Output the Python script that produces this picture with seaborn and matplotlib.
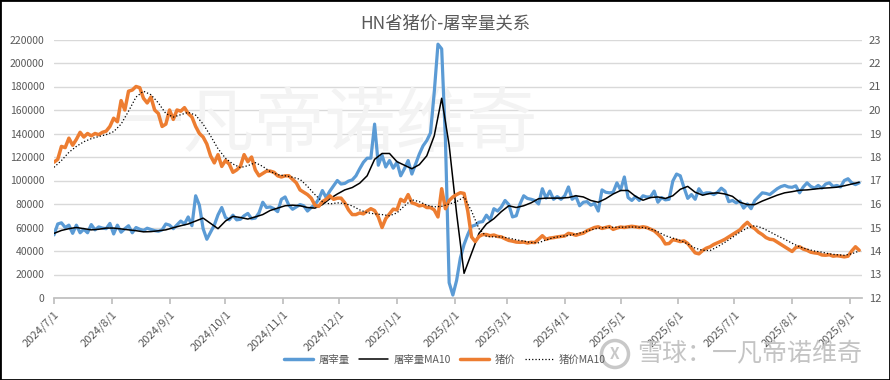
import pandas as pd
import matplotlib.pyplot as plt
from matplotlib.lines import Line2D
from matplotlib.patches import Rectangle, Ellipse
import seaborn as sns

# Basic style, then CJK font list (set after set_theme)
sns.set_theme(style="white")
plt.rcParams['font.family'] = ['Noto Sans CJK SC', 'DejaVu Sans']
plt.rcParams['axes.unicode_minus'] = False

START = '2024-07-01'

# daily slaughter volume (head), every 2 days
slaughter = [
    53700, 63000, 64000, 60000, 62000, 55000, 62000, 55500, 58500, 55500,
    62500, 58000, 60500, 59500, 59000, 63500, 54500, 62000, 56000, 59000,
    61500, 55500, 60000, 58500, 57500, 59400, 58300, 57300, 56800, 58000,
    63000, 62000, 59000, 62300, 65500, 63000, 69000, 61500, 87000, 79000,
    59000, 50000, 56000, 62000, 70800, 77000, 68500, 66500, 70500, 66500,
    67000, 70000, 72000, 67500, 68000, 72500, 81500, 77000, 77500, 76000,
    73500, 84000, 86000, 79000, 75500, 77500, 79500, 78500, 74000, 77000,
    79500, 84000, 91500, 85500, 91000, 95500, 100000, 97000, 97500, 99500,
    100500, 104000, 110000, 115500, 119000, 119000, 148000, 113000, 121500, 111500,
    117000, 110500, 115500, 104000, 110000, 117000, 105500, 114000, 122500, 129500,
    134000, 140500, 175000, 216000, 212000, 135000, 13000, 2500, 15000, 34000,
    45500, 54000, 61000, 62000, 64500, 65000, 70500, 66500, 76000, 74000,
    77500, 83000, 79500, 69000, 70000, 80000, 87000, 84700, 84000, 83000,
    80000, 93000, 85000, 91000, 84000, 86300, 84000, 87000, 94500, 84000,
    86500, 78500, 81500, 82000, 79000, 80500, 74000, 92000, 90000, 89500,
    90000, 98000, 92000, 103000, 85500, 83000, 86300, 83000, 87000, 86000,
    86000, 91000, 81500, 85500, 83500, 84000, 99500, 105500, 104000, 94000,
    84800, 88000, 84000, 93000, 88500, 89500, 89500, 88000, 90000, 93500,
    91000, 82000, 83000, 81000, 82500, 76500, 80000, 76000, 83000, 86300,
    89500, 89000, 88000, 90500, 93000, 94800, 95800, 94500, 94200, 95500,
    89500, 94500, 98000, 95000, 93500, 95800, 93500, 97000, 98000, 95000,
    95800, 94500, 100000, 101500, 98000, 96500, 98000,
]

# pig price (yuan/kg), same dates
price = [
    17.78, 17.9, 18.45, 18.4, 18.8, 18.5, 18.75, 19.05, 18.85, 19.0,
    18.9, 19.0, 18.95, 19.05, 19.1, 19.3, 19.65, 19.5, 20.4, 20.0,
    20.8, 20.85, 21.0, 20.95, 20.5, 20.3, 20.55, 20.0, 19.85, 19.3,
    19.4, 20.0, 19.6, 20.0, 19.95, 20.1, 19.85, 19.7, 19.3, 19.0,
    18.85, 18.55, 18.05, 17.75, 18.1, 17.6, 17.85, 17.7, 17.35, 17.45,
    17.6, 18.1, 17.8, 18.0, 17.45, 17.2, 17.3, 17.4, 17.4, 17.35,
    17.2, 17.15, 17.2, 17.2, 17.05, 16.9, 16.6, 16.5, 16.4, 16.25,
    15.95, 15.9, 16.1, 16.2, 16.35, 16.2, 16.25, 16.25, 16.05, 15.75,
    15.55, 15.55, 15.62, 15.58, 15.7, 15.8, 15.72, 15.45, 15.0, 15.38,
    15.58, 15.78, 15.75, 16.2, 16.1, 16.4, 16.05, 16.0, 15.92, 15.95,
    15.85, 15.85, 15.75, 15.45, 16.65, 15.8, 16.15, 16.3, 16.4, 16.48,
    16.45, 15.7, 14.6, 14.4, 14.62, 14.7, 14.7, 14.65, 14.68, 14.62,
    14.6, 14.52, 14.45, 14.42, 14.38, 14.37, 14.38, 14.34, 14.37, 14.36,
    14.5, 14.65, 14.5, 14.55, 14.57, 14.6, 14.62, 14.64, 14.75, 14.72,
    14.67, 14.72, 14.76, 14.86, 14.93, 15.0, 15.03, 14.96, 15.0, 15.04,
    14.92, 14.98, 15.02, 15.0, 15.03, 15.05, 15.03, 15.0, 15.03, 15.0,
    14.93, 14.86, 14.72, 14.56, 14.3, 14.32, 14.48, 14.45, 14.4, 14.43,
    14.32, 14.12, 13.92, 13.88, 14.02, 14.12, 14.18, 14.28, 14.35, 14.42,
    14.5, 14.6, 14.7, 14.8, 14.9, 15.08, 15.22, 15.05, 14.95, 14.8,
    14.7, 14.57, 14.5, 14.48, 14.38, 14.28, 14.18, 14.08, 13.98, 14.15,
    14.18, 14.08, 14.03, 13.95, 13.92, 13.9, 13.83, 13.82, 13.84, 13.78,
    13.8, 13.78, 13.75, 13.78, 14.0, 14.18, 14.03,
]

# 10-day moving averages, read every 4 days
slaughter_ma10 = [
    55000, 57500, 59000, 60000, 59000, 58000, 58500, 59500, 59500, 58800,
    58000, 57300, 56300, 56500, 57200, 58000, 59800, 61500, 63000, 65500,
    68000, 63500, 59000, 65500, 69500, 68500, 67200, 69000, 71000, 74500,
    76500, 78500, 79000, 78500, 77000, 76500, 79500, 84500, 88500, 92000,
    94000, 97700, 104000, 118000, 123000, 123000, 116000, 113000, 110000, 113500,
    121000, 138000, 170000, 130000, 72000, 21000, 38000, 55000, 63000, 67500,
    73500, 78500, 77000, 78500, 81000, 84500, 85000, 85000, 85000, 85500,
    87000, 86000, 83000, 81500, 84500, 88500, 91500, 91500, 86500, 83200,
    85500, 86000, 84700, 87000, 92500, 95000, 90000, 87500, 89000, 89500,
    88500, 86500, 81500, 79500, 79500, 82500, 85000, 87500, 89500, 90500,
    91700, 92000, 92700, 93400, 93800, 94300, 95500, 97000, 98500,
]

price_ma10 = [
    17.56, 17.85, 18.2, 18.45, 18.65, 18.78, 18.87, 18.95, 19.08, 19.4,
    19.95, 20.55, 20.8, 20.65, 20.3, 19.85, 19.7, 19.8, 19.9, 19.78,
    19.4, 18.9, 18.35, 17.95, 17.7, 17.55, 17.63, 17.76, 17.6, 17.38,
    17.25, 17.2, 17.14, 17.05, 16.75, 16.4, 16.1, 16.0, 16.05, 16.02,
    15.92, 15.75, 15.63, 15.58, 15.55, 15.5, 15.62, 15.92, 16.18, 16.1,
    15.95, 15.88, 15.9, 16.0, 16.1, 16.3, 15.7, 14.95, 14.62, 14.6,
    14.6, 14.55, 14.48, 14.42, 14.36, 14.35, 14.47, 14.57, 14.62, 14.66,
    14.72, 14.8, 14.9, 14.97, 15.0, 15.01, 15.01, 15.02, 15.02, 15.0,
    14.94, 14.82, 14.65, 14.55, 14.45, 14.3, 14.12, 14.03, 14.02, 14.18,
    14.37, 14.58, 14.8, 14.98, 15.08, 14.98, 14.82, 14.65, 14.5, 14.33,
    14.18, 14.08, 14.0, 13.95, 13.88, 13.84, 13.82, 13.88, 14.0,
]

month_ticks = ['2024-07-01', '2024-08-01', '2024-09-01', '2024-10-01', '2024-11-01',
               '2024-12-01', '2025-01-01', '2025-02-01', '2025-03-01', '2025-04-01',
               '2025-05-01', '2025-06-01', '2025-07-01', '2025-08-01', '2025-09-01']
left_ticks = list(range(0, 220001, 20000))
right_ticks = list(range(12, 24))

BLUE = '#5b9bd5'
ORANGE = '#ed7d31'
GREY_TXT = '#595959'

raw = pd.DataFrame({
    'date': pd.date_range(START, periods=len(slaughter), freq='2D'),
    'slaughter': slaughter,
    'price': price,
})
ma = pd.DataFrame({
    'date': pd.date_range(START, periods=len(slaughter_ma10), freq='4D'),
    'slaughter_ma10': slaughter_ma10,
    'price_ma10': price_ma10,
})

fig, ax = plt.subplots(figsize=(8.9, 3.8), dpi=100)
fig.subplots_adjust(left=54 / 890, right=862 / 890, top=1 - 39.5 / 380, bottom=1 - 298 / 380)
ax2 = ax.twinx()

# primary axis: slaughter volume
sns.lineplot(data=raw, x='date', y='slaughter', ax=ax, color=BLUE, linewidth=2.3, zorder=3)
sns.lineplot(data=ma, x='date', y='slaughter_ma10', ax=ax, color='black', linewidth=1.1, zorder=4)
# secondary axis: pig price
sns.lineplot(data=raw, x='date', y='price', ax=ax2, color=ORANGE, linewidth=2.5, zorder=3)
sns.lineplot(data=ma, x='date', y='price_ma10', ax=ax2, color='black', linewidth=0.9,
             linestyle=':', zorder=4)

ax.set_xlim(pd.Timestamp('2024-07-01'), pd.Timestamp('2025-09-07 12:00'))
ax.set_ylim(0, 220000)
ax2.set_ylim(12, 23)

# grid and spines
ax.set_axisbelow(True)
ax.yaxis.grid(True, color='#d9d9d9', linewidth=1)
ax.xaxis.grid(False)
ax2.grid(False)
for side in ['left', 'right', 'top']:
    ax.spines[side].set_visible(False)
for side in ax2.spines:
    ax2.spines[side].set_visible(False)
ax.spines['bottom'].set_color('#bfbfbf')

# ticks
tick_dates = pd.to_datetime(month_ticks)
ax.set_xticks(tick_dates)
ax.set_xticklabels([f"{d.year}/{d.month}/{d.day}" for d in tick_dates],
                   rotation=45, ha='right', rotation_mode='anchor')
ax.tick_params(axis='x', bottom=True, length=4, color='#bfbfbf', pad=4,
               labelsize=8, labelcolor=GREY_TXT)
ax.set_yticks(left_ticks, labels=[str(v) for v in left_ticks])
ax.tick_params(axis='y', left=False, length=0, pad=7, labelsize=7.5, labelcolor=GREY_TXT)
ax2.set_yticks(right_ticks, labels=[str(v) for v in right_ticks])
ax2.tick_params(axis='y', right=False, length=0, pad=5, labelsize=8, labelcolor=GREY_TXT)
ax.set_xlabel('')
ax.set_ylabel('')
ax2.set_ylabel('')

# background watermark, kept under the lines
ax.text(0.366, 0.671, '一凡帝诺维奇', transform=fig.transFigure, ha='center', va='center',
        fontsize=51, color='#f3f3f3', zorder=1)

# title
fig.text(0.5, 1 - 23 / 380, 'HN省猪价-屠宰量关系', ha='center', va='center',
         fontsize=12.5, color=GREY_TXT)

# legend along the bottom
handles = [
    Line2D([], [], color=BLUE, linewidth=2.5),
    Line2D([], [], color='black', linewidth=1.1),
    Line2D([], [], color=ORANGE, linewidth=2.5),
    Line2D([], [], color='black', linewidth=0.9, linestyle=':'),
]
labels = ['屠宰量', '屠宰量MA10', '猪价', '猪价MA10']
fig.legend(handles, labels, loc='center', bbox_to_anchor=(0.5, 1 - 360 / 380), ncol=4,
           frameon=False, fontsize=7.5, handlelength=2.8, handletextpad=0.5,
           columnspacing=0.9, labelcolor=GREY_TXT)

# corner watermark
fig.patches.append(Ellipse((615 / 890, 1 - 354 / 380), 27 / 890, 27 / 380,
                           transform=fig.transFigure, fill=False,
                           edgecolor='#c8c8c8', linewidth=2.5))
fig.text(615 / 890, 1 - 354 / 380, 'X', ha='center', va='center', fontsize=11,
         fontweight='bold', color='#c8c8c8')
fig.text(637 / 890, 1 - 354 / 380, '雪球：一凡帝诺维奇', ha='left', va='center',
         fontsize=18, color='#c4c4c4')

# outer frame
fig.patches.append(Rectangle((0, 0), 1, 1, transform=fig.transFigure, fill=False,
                             edgecolor='black', linewidth=2))

fig.savefig('out.png', dpi=100)
